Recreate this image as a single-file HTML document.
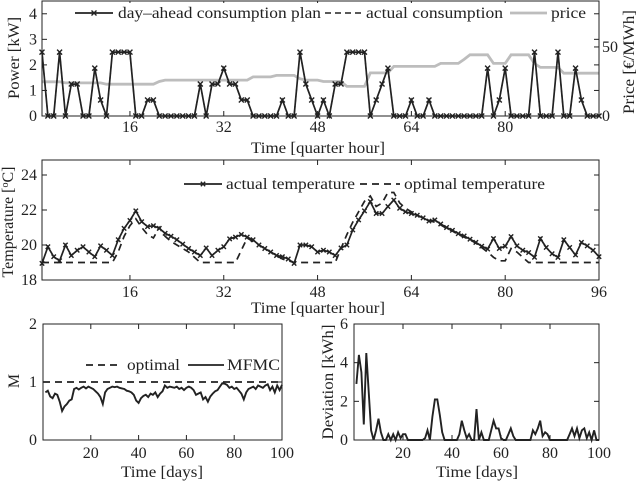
<!DOCTYPE html>
<html><head><meta charset="utf-8"><style>
html,body{margin:0;padding:0;background:#fff;}
svg{display:block;font-family:"Liberation Serif",serif;}
text{fill:#222;font-size:16px;}
</style></head><body>
<svg id="fig" width="640" height="481" viewBox="0 0 640 481"></svg>
<script>
// ---------- DATA ----------
const quarterHours = Array.from({length:96},(_,i)=>i+1);
const planKW = [2.5,0,0,2.5,0,1.25,1.25,0,0,1.875,0.625,0,2.5,2.5,2.5,2.5,0,0,0.625,0.625,
0,0,0,0,0,0,0,1.25,0,1.25,1.25,1.875,1.25,1.25,0.625,0.625,0,0,0,0,
0,0.625,0,0,2.5,1.25,0.625,0,0.625,0,1.25,1.25,2.5,2.5,2.5,2.5,0,0.625,1.25,1.875,
0,0,0,0.625,0,0,0.625,0,0,0,0,0,0,0,0,0,1.875,0,0.625,1.875,
0,0,0,0,2.5,0,0,0,2.5,0,0,1.875,0.625,0,0,0];
const actualKW = planKW.slice();
const priceEUR = [24.8,24.8,24.8,24.8,24,24,24,24,24,24,24,23,23,23,23,23,23,23,23,23,
25,26,26,26,26,26,26,26,26,26,26,26,26,26,26,26,28.3,28.3,28.3,28.3,
29.4,29.4,29.4,29.4,27,26,26,26,25,25,25,25,21.4,21.4,21.4,21.4,31.2,31.2,31.2,31.2,
35.9,35.9,35.9,35.9,35.9,35.9,35.9,35.9,38.1,38.1,38.1,38.1,41,44.3,44.3,44.3,44.3,38.1,38.1,38.1,
44.3,44.3,44.3,44.3,38,35.2,35.2,35.2,35.2,31,31,31,31,31,31,31];
const actualTemp = [18.95,19.9,19.33,19.1,20,19.4,19.7,19.9,19.6,19.33,19.95,19.7,19.4,20.3,20.95,21.4,21.95,21.33,21.05,21.1,
20.95,20.67,20.5,20.3,20.05,19.8,19.6,19.4,19.83,19.4,19.7,19.9,20.35,20.45,20.6,20.45,20.3,20.0,19.8,19.6,
19.4,19.33,19.2,18.95,20,20,19.9,19.6,19.7,19.6,19.4,19.83,20,20.86,21.43,21.95,22.48,21.8,21.8,22.2,
22.57,22.1,21.9,21.8,21.7,21.55,21.37,21.43,21.2,21.0,20.84,20.65,20.52,20.33,20.15,19.93,19.77,20.37,19.8,19.93,
20.48,19.95,19.7,19.57,19.3,20.37,19.86,19.5,19.29,20.3,19.86,19.43,20.15,19.95,19.7,19.33];
const optimalTemp = [19,19,19,19,19,19,19,19,19,19,19,19,19,19.6,20.5,21.1,21.5,21.0,20.6,20.4,
21.0,20.5,20.2,20.0,19.8,19.6,19.3,19,19,19,19,19,19,19,19.7,20.4,20.2,20.0,19.8,19.6,
19.4,19.2,19.1,19,19,19,19,19,19,19,19,19.8,20.6,21.3,21.9,22.5,22.8,22.2,22.4,23.0,
23.0,22.4,22.1,21.9,21.7,21.55,21.4,21.3,21.15,20.95,20.8,20.6,20.45,20.3,20.1,19.85,19.6,19.3,19.1,19.1,
19.8,19.6,19.3,19,19,19,19,19,19,19,19,19,19,19,19,19];
const days = Array.from({length:100},(_,i)=>i+1);
const mfmc = [0.82,0.85,0.75,0.72,0.8,0.78,0.66,0.5,0.58,0.62,0.68,0.7,0.88,0.9,0.87,0.9,0.92,0.89,0.92,0.9,
0.88,0.84,0.8,0.74,0.62,0.82,0.88,0.9,0.92,0.91,0.92,0.9,0.89,0.88,0.85,0.84,0.82,0.78,0.68,0.64,
0.72,0.76,0.78,0.74,0.8,0.78,0.82,0.74,0.8,0.84,0.94,0.9,0.92,0.91,0.9,0.92,0.88,0.9,0.86,0.9,
0.92,0.9,0.86,0.78,0.8,0.82,0.7,0.74,0.66,0.75,0.8,0.84,0.86,0.92,0.98,0.97,0.95,0.9,0.92,0.88,
0.9,0.85,0.8,0.7,0.82,0.88,0.9,0.92,0.88,0.94,0.92,0.9,0.94,0.96,0.86,0.92,0.82,0.94,0.86,0.95];
const optimalM = [1,1];
const deviation = [2.9,4.4,3.5,0.8,4.5,2.5,0.5,0,0.5,1.1,0.4,0,0,0.3,0,0.3,0,0.4,0.1,0.3,
0.3,0,0,0,0,0,0,0,0.1,0.5,0,1.2,2.1,2.1,1.3,0.4,0,0,0,0,
0,0,0.3,1.0,0.5,0.1,0.3,0,0,1.6,0,0.4,0,0,0,0.5,1.0,0.6,0.6,0.1,
0,0,0.3,0.6,0.2,0,0,0,0,0,0,0,0.5,0.3,0.6,1.0,0.2,0.4,0.3,0,
0,0,0,0,0,0,0,0.3,0.6,0.2,0.6,0.1,0.5,0.6,0.1,0.4,0,0.5,0,0];
const qhTicks = [16,32,48,64,80];
const qhTicks2 = [16,32,48,64,80,96];
const kwTicks = [0,1,2,3,4];
const priceTicks = [0,50];
const tempTicks = [18,20,22,24];
const dayTicks = [20,40,60,80,100];
const mTicks = [0,1,2];
const devTicks = [0,2,4,6];

// ---------- HELPERS ----------
const NS="http://www.w3.org/2000/svg";
const svg=document.getElementById('fig');
function mk(tag,attrs,parent){const e=document.createElementNS(NS,tag);for(const k in attrs)e.setAttribute(k,attrs[k]);(parent||svg).appendChild(e);return e;}
function lin(d0,d1,r0,r1){return v=>r0+(v-d0)*(r1-r0)/(d1-d0);}
function txt(s,x,y,anchor,parent,len){const t=mk('text',{x:x,y:y,'text-anchor':anchor||'middle'},parent);if(len){t.setAttribute('textLength',len);t.setAttribute('lengthAdjust','spacingAndGlyphs');}t.textContent=s;return t;}
function pathD(xs,ys,X,Y){return xs.map((v,i)=>(i?'L':'M')+X(v).toFixed(1)+' '+Y(ys[i]).toFixed(1)).join(' ');}
function frame(g,x0,y0,x1,y1){const r=mk('rect',{x:x0,y:y0,width:x1-x0,height:y1-y0,fill:'none',stroke:'#222','stroke-width':1},g);}
function xTicks(g,ticks,X,y0,y1,labY){ticks.forEach(t=>{const x=X(t);mk('line',{x1:x,x2:x,y1:y1,y2:y1-5,stroke:'#222'},g);mk('line',{x1:x,x2:x,y1:y0,y2:y0+5,stroke:'#222'},g);const l=txt(String(t),x,labY,'middle',g);});}
function yTicks(g,ticks,Y,x0,x1,labX,right){ticks.forEach(t=>{const y=Y(t);mk('line',{x1:x0,x2:x0+5,y1:y,y2:y,stroke:'#222'},g);if(!right)mk('line',{x1:x1,x2:x1-5,y1:y,y2:y,stroke:'#222'},g);const l=txt(String(t),labX,y+5,'end',g);});}
function xmark(g,x,y,s){mk('path',{d:`M${x-s} ${y-s}L${x+s} ${y+s}M${x-s} ${y+s}L${x+s} ${y-s}`,stroke:'#222','stroke-width':1.4},g);}

// ---------- PANEL 1: power / price ----------
{
const g=mk('g',{});
const X=lin(1,96,42,599), Y=lin(0,4.5,116,1), YP=lin(0,84,116,0);
const gp=mk('path',{d:pathD(quarterHours,priceEUR,X,YP),fill:'none',stroke:'#bdbdbd','stroke-width':2.8},g);

const ga=mk('path',{d:pathD(quarterHours,actualKW,X,Y),fill:'none',stroke:'#222','stroke-width':1.3,'stroke-dasharray':'6 4'},g);

const pl=mk('path',{d:pathD(quarterHours,planKW,X,Y),fill:'none',stroke:'#222','stroke-width':1.7},g);

quarterHours.forEach((q,i)=>xmark(g,X(q),Y(planKW[i]),2.5));
frame(g,42,1,599,116);
xTicks(g,qhTicks,X,1,116,132);
yTicks(g,kwTicks,Y,42,599,37);
priceTicks.forEach(t=>{const y=YP(t);mk('line',{x1:599,x2:594,y1:y,y2:y,stroke:'#222'},g);const l=txt(String(t),602,y+5,'start',g);});
const xl=txt('Time [quarter hour]',318,153,'middle',g,134);
const yl=txt('Power [kW]',0,0,'middle',g,82);yl.setAttribute('transform','translate(19,58) rotate(-90)');
const yr=txt('Price [€/MWh]',0,0,'middle',g,104);yr.setAttribute('transform','translate(634,62) rotate(-90)');
const lg=mk('g',{},g);
mk('rect',{x:72,y:3,width:520,height:20,fill:'#fff'},lg);
mk('line',{x1:75,x2:113,y1:13,y2:13,stroke:'#222','stroke-width':1.7},lg);xmark(lg,94,13,2.5);
const t1=txt('day–ahead consumption plan',118,18,'start',lg,203);
mk('line',{x1:325,x2:363,y1:13,y2:13,stroke:'#222','stroke-width':1.6,'stroke-dasharray':'6 4'},lg);
const t2=txt('actual consumption',366,18,'start',lg,137);
mk('line',{x1:510,x2:547,y1:13,y2:13,stroke:'#bdbdbd','stroke-width':2.8},lg);
const t3=txt('price',551,18,'start',lg,35);
}

// ---------- PANEL 2: temperature ----------
{
const g=mk('g',{});
const X=lin(1,96,42,599), Y=lin(20,22,245,210);
const op=mk('path',{d:pathD(quarterHours,optimalTemp,X,Y),fill:'none',stroke:'#222','stroke-width':1.7,'stroke-dasharray':'7 5'},g);

const ac=mk('path',{d:pathD(quarterHours,actualTemp,X,Y),fill:'none',stroke:'#222','stroke-width':1.7},g);

quarterHours.forEach((q,i)=>xmark(g,X(q),Y(actualTemp[i]),2.2));
frame(g,42,160,599,280);
xTicks(g,qhTicks2,X,160,280,297);
yTicks(g,tempTicks,Y,42,599,37);
const xl=txt('Time [quarter hour]',318,313,'middle',g,134);
const yl=mk('text',{'text-anchor':'middle',transform:'translate(13,222) rotate(-90)'},g);
yl.innerHTML='Temperature [<tspan dy="-5" font-size="10">o</tspan><tspan dy="5">C]</tspan>';

const lg=mk('g',{},g);
mk('line',{x1:184,x2:222,y1:184,y2:184,stroke:'#222','stroke-width':1.7},lg);xmark(lg,203,184,2.2);
const t1=txt('actual temperature',226,189,'start',lg,129);
mk('line',{x1:360,x2:400,y1:184,y2:184,stroke:'#222','stroke-width':1.7,'stroke-dasharray':'7 5'},lg);
const t2=txt('optimal temperature',404,189,'start',lg,141);
}

// ---------- PANEL 3: M ----------
{
const g=mk('g',{});
const X=lin(0,100,43,282), Y=lin(0,2,440,324);
const od=mk('line',{x1:X(0),x2:X(100),y1:Y(optimalM[0]),y2:Y(optimalM[1]),stroke:'#222','stroke-width':1.7,'stroke-dasharray':'7 5'},g);

const mf=mk('path',{d:pathD(days,mfmc,X,Y),fill:'none',stroke:'#222','stroke-width':1.9},g);

frame(g,43,324,282,440);
xTicks(g,dayTicks,X,324,440,458);
yTicks(g,mTicks,Y,43,282,37);
const xl=txt('Time [days]',162,477,'middle',g,82);
const yl=txt('M',0,0,'middle',g);yl.setAttribute('transform','translate(19,381) rotate(-90)');
const lg=mk('g',{},g);
mk('line',{x1:86,x2:122,y1:365,y2:365,stroke:'#222','stroke-width':1.7,'stroke-dasharray':'7 5'},lg);
const t1=txt('optimal',127,370,'start',lg,53);
mk('line',{x1:188,x2:224,y1:365,y2:365,stroke:'#222','stroke-width':1.7},lg);
const t2=txt('MFMC',227,370,'start',lg,53);
}

// ---------- PANEL 4: deviation ----------
{
const g=mk('g',{});
const X=lin(0,100,354,599), Y=lin(0,6,440,324);
const dv=mk('path',{d:pathD(days,deviation,X,Y),fill:'none',stroke:'#222','stroke-width':1.9},g);

frame(g,354,324,599,440);
xTicks(g,dayTicks,X,324,440,458);
yTicks(g,devTicks,Y,354,599,348);
const xl=txt('Time [days]',477,477,'middle',g,82);
const yl=txt('Deviation [kWh]',0,0,'middle',g,115);yl.setAttribute('transform','translate(333,382) rotate(-90)');
}
</script>
</body></html>
